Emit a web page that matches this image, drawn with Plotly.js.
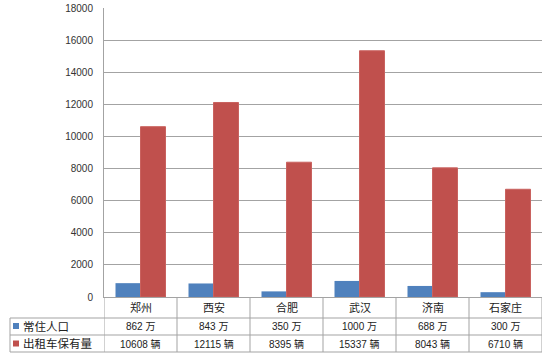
<!DOCTYPE html>
<html>
<head>
<meta charset="utf-8">
<script src="https://cdn.plot.ly/plotly-3.0.1.min.js"></script>
<style>html,body{margin:0;padding:0;background:#fff;}#chart{width:550px;height:358px;}</style>
</head>
<body>
<div id="chart"></div>
<script>
const cities = ["郑州", "西安", "合肥", "武汉", "济南", "石家庄"];
const population = [862, 843, 350, 1000, 688, 300];
const taxis = [10608, 12115, 8395, 15337, 8043, 6710];
const seriesNames = ["常住人口", "出租车保有量"];
const units = ["万", "辆"];
const yTicks = [0, 2000, 4000, 6000, 8000, 10000, 12000, 14000, 16000, 18000];

const blue = "#4F81BD", red = "#C0504D", lineCol = "#A3A3A3";
const font = "Liberation Sans, Noto Sans CJK SC, sans-serif";

// geometry helpers (pixel -> paper), plot area 104..542 x 8..297
const L = 104, R = 542, T = 8, B = 297;
const px = x => (x - L) / (R - L);
const py = y => (B - y) / (B - T);

const traces = [
  {type: "bar", name: seriesNames[0], x: cities, y: population, marker: {color: blue}},
  {type: "bar", name: seriesNames[1], x: cities, y: taxis, marker: {color: red, line: {color: "#C9625F", width: 1}}}
];

const shapes = [];
const annotations = [];
const rowY = [py(318), py(335), py(352)];
// horizontal table lines
rowY.forEach(y => shapes.push({type: "line", xref: "paper", yref: "paper", x0: px(10), x1: 1, y0: y, y1: y, line: {color: lineCol, width: 1}}));
// left border
shapes.push({type: "line", xref: "paper", yref: "paper", x0: px(10), x1: px(10), y0: rowY[0], y1: rowY[2], line: {color: lineCol, width: 1}});
// category boundaries
for (let i = 0; i <= cities.length; i++) {
  shapes.push({type: "line", xref: "x", yref: "paper", x0: i - 0.5, x1: i - 0.5, y0: 0, y1: rowY[2], line: {color: lineCol, width: 1}});
}
// legend keys
[blue, red].forEach((c, k) => {
  const cy = k === 0 ? 326 : 343.5;
  shapes.push({type: "rect", xref: "paper", yref: "paper", x0: px(13), x1: px(19), y0: py(cy - 3), y1: py(cy + 3), fillcolor: c, line: {width: 0}});
  annotations.push({xref: "paper", yref: "paper", x: px(20.5), y: py(cy), xanchor: "left", yanchor: "middle", showarrow: false, text: seriesNames[k], font: {family: font, size: 11.5, color: "#222"}});
});
const headerY = py(307.5), r1 = py(326), r2 = py(343.5);
cities.forEach((c, i) => {
  annotations.push({xref: "x", yref: "paper", x: i, y: headerY, xanchor: "center", yanchor: "middle", showarrow: false, text: c, font: {family: font, size: 11, color: "#222"}});
  annotations.push({xref: "x", yref: "paper", x: i, y: r1, xanchor: "center", yanchor: "middle", showarrow: false, text: population[i] + " " + units[0], font: {family: font, size: 10, color: "#222"}});
  annotations.push({xref: "x", yref: "paper", x: i, y: r2, xanchor: "center", yanchor: "middle", showarrow: false, text: taxis[i] + " " + units[1], font: {family: font, size: 10, color: "#222"}});
});

const layout = {
  width: 550, height: 358,
  margin: {l: L, r: 550 - R, t: T, b: 358 - B},
  paper_bgcolor: "#fff", plot_bgcolor: "#fff",
  showlegend: false,
  barmode: "group", bargap: 0.315, bargroupgap: 0,
  font: {family: font, size: 10, color: "#333"},
  xaxis: {type: "category", range: [-0.5, cities.length - 0.5], showticklabels: false, ticks: "", showgrid: false, showline: true, linecolor: lineCol, linewidth: 1, zeroline: false, fixedrange: true},
  yaxis: {range: [0, 18000], tickvals: yTicks, ticktext: yTicks.map(String), showgrid: true, gridcolor: lineCol, gridwidth: 1, showline: true, linecolor: lineCol, linewidth: 1, zeroline: false, ticks: "", ticklabelstandoff: 8, tickfont: {family: font, size: 10, color: "#333"}},
  shapes: shapes,
  annotations: annotations
};

Plotly.newPlot("chart", traces, layout, {displayModeBar: false, staticPlot: true});
</script>
</body>
</html>
